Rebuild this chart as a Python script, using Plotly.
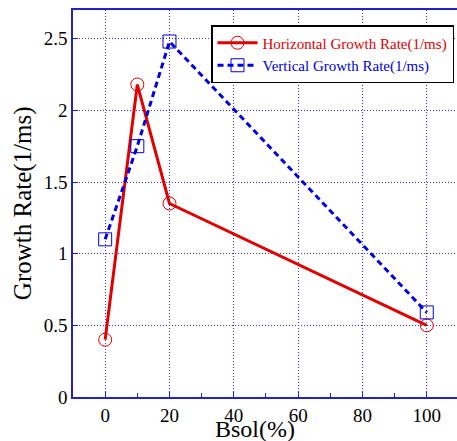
import plotly.graph_objects as go

bsol = [0, 10, 20, 100]
horizontal = [0.40, 2.18, 1.35, 0.50]
vertical = [1.10, 1.75, 2.48, 0.59]
x_ticks = [0, 20, 40, 60, 80, 100]
y_ticks = [0, 0.5, 1, 1.5, 2, 2.5]
y_labels = ["0", "0.5", "1", "1.5", "2", "2.5"]

RED = "#e00000"
BLUE = "#0000e0"
FRAME = "#2222cc"
GRID = "#3333dd"
FONT = "Liberation Serif"

fig = go.Figure()
fig.add_trace(go.Scatter(
    x=bsol, y=horizontal, mode="lines+markers",
    name="<span style='color:#e00000'>Horizontal Growth Rate(1/ms)</span>",
    line=dict(color=RED, width=3),
    marker=dict(symbol="circle-open", size=13, color=RED, line=dict(width=1, color=RED)),
))
fig.add_trace(go.Scatter(
    x=bsol, y=vertical, mode="lines+markers",
    name="<span style='color:#0000e0'>Vertical Growth Rate(1/ms)</span>",
    line=dict(color=BLUE, width=3, dash="6px,4px"),
    marker=dict(symbol="square-open", size=13, color=BLUE, line=dict(width=1, color=BLUE)),
))

fig.update_layout(
    width=457, height=441,
    margin=dict(l=73, r=0, t=10, b=44),
    paper_bgcolor="white", plot_bgcolor="white",
    font=dict(family=FONT, size=19, color="black"),
    showlegend=True,
    legend=dict(
        x=(211 - 73) / 384, y=(396.7 - 25) / 386.7, xanchor="left", yanchor="top",
        bgcolor="white", bordercolor="black", borderwidth=1.5,
        font=dict(family=FONT, size=15),
        tracegroupgap=0, itemwidth=40,
    ),
    xaxis=dict(
        range=[-10, 109.4], tickvals=x_ticks, ticktext=[str(v) for v in x_ticks],
        showgrid=True, gridcolor=GRID, griddash="1px,2px", gridwidth=1,
        zeroline=False, showline=True, linecolor=FRAME, linewidth=1.5, mirror=True,
        ticks="inside", ticklen=5, tickcolor=FRAME,
        minor=dict(dtick=10, tick0=0, ticks="inside", ticklen=4, tickcolor=FRAME, showgrid=False),
        tickfont=dict(family=FONT, size=19),
    ),
    yaxis=dict(
        range=[0, 2.7], tickvals=y_ticks, ticktext=y_labels,
        showgrid=True, gridcolor=GRID, griddash="1px,2px", gridwidth=1,
        zeroline=False, showline=True, linecolor=FRAME, linewidth=1.5, mirror=False,
        ticks="inside", ticklen=5, tickcolor=FRAME,
        tickfont=dict(family=FONT, size=19),
    ),
    annotations=[
        dict(text="Bsol(%)", xref="paper", yref="paper", x=(255 - 73) / 384, y=-(428.5 - 396.7) / 386.7,
             xanchor="center", yanchor="middle", showarrow=False,
             font=dict(family=FONT, size=24)),
        dict(text="Growth Rate(1/ms)", xref="paper", yref="paper", x=-(73 - 23) / 384,
             y=(396.7 - 203) / 386.7,
             xanchor="center", yanchor="middle", showarrow=False, textangle=-90,
             font=dict(family=FONT, size=25)),
    ],
    shapes=[
        dict(type="rect", xref="paper", yref="paper",
             x0=(214 - 73) / 384, x1=(451 - 73) / 384,
             y0=(396.7 - 73) / 386.7, y1=(396.7 - 28) / 386.7,
             fillcolor="black", line=dict(width=0), layer="above"),
    ],
)

fig.write_html("out.html", config={"displayModeBar": False},
               post_script="document.body.style.margin='0px';")
